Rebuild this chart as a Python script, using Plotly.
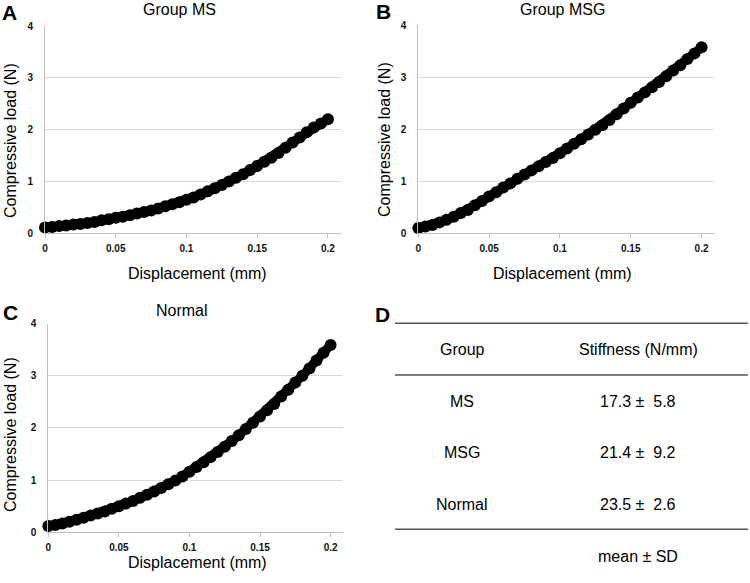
import plotly.graph_objects as go

# ---------------- data ----------------
displacement = [0.000, 0.005, 0.010, 0.015, 0.020, 0.025, 0.030, 0.035, 0.040, 0.045,
                0.050, 0.055, 0.060, 0.065, 0.070, 0.075, 0.080, 0.085, 0.090, 0.095,
                0.100, 0.105, 0.110, 0.115, 0.120, 0.125, 0.130, 0.135, 0.140, 0.145,
                0.150, 0.155, 0.160, 0.165, 0.170, 0.175, 0.180, 0.185, 0.190, 0.195,
                0.200]

load_ms = [0.11, 0.12, 0.14, 0.15, 0.17, 0.18, 0.20, 0.22, 0.25, 0.27,
           0.30, 0.32, 0.35, 0.38, 0.41, 0.44, 0.48, 0.52, 0.56, 0.60,
           0.645, 0.69, 0.75, 0.81, 0.87, 0.93, 1.00, 1.07, 1.14, 1.22,
           1.30, 1.38, 1.46, 1.55, 1.65, 1.75, 1.85, 1.95, 2.04, 2.12,
           2.20]

load_msg = [0.10, 0.13, 0.16, 0.21, 0.26, 0.32, 0.39, 0.45, 0.54, 0.62,
            0.71, 0.79, 0.88, 0.96, 1.05, 1.13, 1.21, 1.29, 1.37, 1.45,
            1.54, 1.63, 1.72, 1.81, 1.90, 1.99, 2.08, 2.18, 2.29, 2.40,
            2.51, 2.61, 2.71, 2.81, 2.91, 3.02, 3.13, 3.23, 3.35, 3.46,
            3.58]

load_normal = [0.12, 0.14, 0.17, 0.20, 0.24, 0.28, 0.32, 0.36, 0.40, 0.45,
               0.50, 0.55, 0.60, 0.66, 0.72, 0.78, 0.85, 0.92, 0.99, 1.07,
               1.16, 1.25, 1.34, 1.44, 1.54, 1.64, 1.75, 1.86, 1.98, 2.10,
               2.22, 2.34, 2.46, 2.60, 2.73, 2.87, 3.00, 3.14, 3.29, 3.44,
               3.59]

panel_titles = ["Group MS", "Group MSG", "Normal"]
panel_letters = ["A", "B", "C", "D"]
x_ticks = [0, 0.05, 0.1, 0.15, 0.2]
x_tick_labels = ["0", "0.05", "0.1", "0.15", "0.2"]
y_ticks = [0, 1, 2, 3, 4]
x_title = "Displacement (mm)"
y_title = "Compressive load (N)"

table_groups = ["MS", "MSG", "Normal"]
table_means = [17.3, 21.4, 23.5]
table_sds = [5.8, 9.2, 2.6]
table_header = ["Group", "Stiffness (N/mm)"]
table_footer = "mean ± SD"

# ---------------- layout helpers ----------------
W, H = 750, 583


def px(x):
    return x / W


def py(y):
    return 1 - y / H


# plot areas in pixels: (left, right, top, bottom)
areas = [(45, 340.7, 26, 233.3), (418.3, 714.3, 25.3, 233.3), (48.3, 343.3, 323.5, 532.3)]
series = [load_ms, load_msg, load_normal]

fig = go.Figure()
axis_font = dict(family="Liberation Sans, Arial, sans-serif", size=10, color="#111", weight="bold")

layout = dict(
    width=W, height=H, autosize=False,
    margin=dict(l=0, r=0, t=0, b=0, pad=0),
    paper_bgcolor="white", plot_bgcolor="white",
    showlegend=False,
)

for i, (area, ys) in enumerate(zip(areas, series)):
    n = "" if i == 0 else str(i + 1)
    fig.add_trace(go.Scatter(
        x=displacement, y=ys, mode="lines+markers",
        line=dict(color="black", width=9),
        marker=dict(color="black", size=12, line=dict(width=0)),
        xaxis="x" + n, yaxis="y" + n, hoverinfo="skip", cliponaxis=False,
    ))
    l, r, t, b = area
    layout["xaxis" + n] = dict(
        domain=[px(l), px(r)], range=[0, 0.209], anchor="y" + n,
        tickvals=x_ticks, ticktext=x_tick_labels, tickfont=axis_font,
        showgrid=False, zeroline=False, showline=True, linecolor="#bfbfbf", linewidth=1,
        ticks="outside", ticklen=4, tickcolor="#bfbfbf", ticklabelstandoff=2,
        automargin=False, fixedrange=True,
    )
    layout["yaxis" + n] = dict(
        domain=[py(b), py(t)], range=[0, 4], anchor="x" + n,
        tickvals=y_ticks, tickfont=axis_font,
        showgrid=True, gridcolor="#d9d9d9", gridwidth=1,
        zeroline=False, showline=True, linecolor="#bfbfbf", linewidth=1,
        ticks="", ticklabelstandoff=9,
        automargin=False, fixedrange=True,
    )

fig.update_layout(**layout)

annotations = []


def text(x, y, s, size=16, bold=False, family="Liberation Sans, Arial, sans-serif", angle=0):
    annotations.append(dict(
        x=px(x), y=py(y), xref="paper", yref="paper", text=s, showarrow=False,
        xanchor="center", yanchor="middle", textangle=angle,
        font=dict(family=family, size=size, color="black", weight="bold" if bold else "normal"),
    ))


# panel titles
title_pos = [(179.5, 10), (562.5, 10), (181.7, 310)]
for s, (x, y) in zip(panel_titles, title_pos):
    text(x, y, s, size=16)

# axis titles
xt_pos = [(197, 273), (562, 273), (197.5, 562.5)]
yt_pos = [(10, 141), (385, 140), (10, 435)]
for (x, y) in xt_pos:
    text(x, y, x_title, size=16)
for (x, y) in yt_pos:
    text(x, y, y_title, size=16, angle=-90)

# panel letters
letter_pos = [(9.5, 12.5), (383, 11.5), (10.5, 312.5), (382.5, 314.5)]
for s, (x, y) in zip(panel_letters, letter_pos):
    text(x, y, s, size=21, bold=True)

# table D
col_x = [462, 638]
text(col_x[0], 349.5, table_header[0], size=16)
text(col_x[1], 349.5, table_header[1], size=16)
row_y = [401.5, 452.7, 504.3]
for g, m, sd, y in zip(table_groups, table_means, table_sds, row_y):
    text(col_x[0], y, g, size=16)
    text(col_x[1], y, f"{m:.1f} ±  {sd:.1f}", size=16)
text(637.5, 556.7, table_footer, size=16)

shapes = []
for y in [323.3, 375, 529.3]:
    shapes.append(dict(type="line", xref="paper", yref="paper",
                       x0=px(395), x1=px(748), y0=py(y), y1=py(y),
                       line=dict(color="#555555", width=1.6)))

fig.update_layout(annotations=annotations, shapes=shapes)
fig.write_html(
    "out.html",
    config={"displayModeBar": False, "staticPlot": True},
    post_script="document.body.style.margin='0px';document.body.style.overflow='hidden';",
)
